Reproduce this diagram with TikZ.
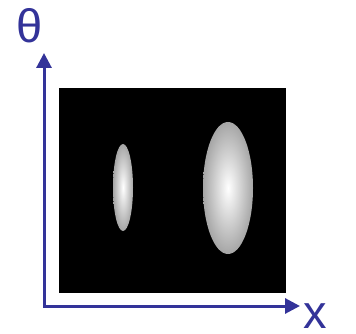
\documentclass[tikz,border=0pt]{standalone}
\usepackage{fontspec}
\setmainfont{Liberation Sans}
\usetikzlibrary{shapes.geometric}
\usetikzlibrary{arrows.meta}
\usetikzlibrary{calc}
\definecolor{axisblue}{RGB}{51,51,153}

\begin{document}
\begin{tikzpicture}[x=1pt, y=-1pt, axis/.style = {draw=axisblue, line width=3pt, -{Triangle[length=15pt, width=15pt]}}, lbl/.style = {text=axisblue, inner sep=0pt, font=\fontsize{47}{47}\selectfont}, blob/.style = {ellipse, inner sep=0pt, shading=radial, inner color=white, outer color=black!35}]
            \useasboundingbox (0,0) rectangle (356,334);
            \node[fill=black, inner sep=0pt, minimum width=227pt, minimum height=205pt] (frame) at (172.5,190.5) {};
            \node[blob, minimum width=20pt, minimum height=87pt] (narrow) at (123,187.5) {};
            \node[blob, minimum width=50pt, minimum height=132pt] (wide) at (228,188) {};
            \coordinate (o) at (44,306);
            \coordinate (thetatip) at (44,53);
            \coordinate (xtip) at (300,306);
            \draw[axis] ($(o)+(0,1.5)$) -- (thetatip);
            \draw[axis] (o) -- (xtip);
            \node[lbl] (theta) at (30,26) {θ};
            \node[lbl] (xlabel) at (315,316) {x};
        \end{tikzpicture}
\end{document}
